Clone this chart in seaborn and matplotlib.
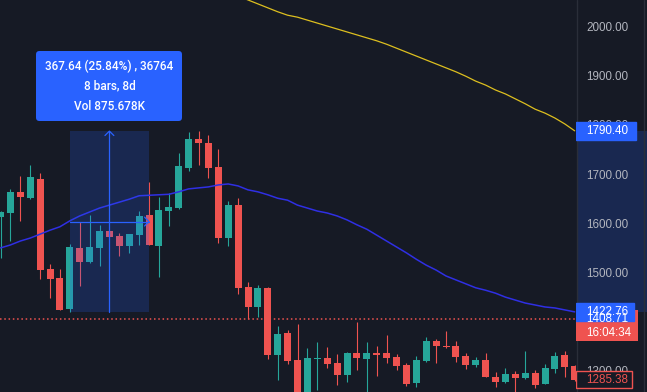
import numpy as np
import pandas as pd
import matplotlib
matplotlib.use("Agg")
import matplotlib.pyplot as plt
from matplotlib.patches import Rectangle, FancyBboxPatch
import seaborn as sns

# candle data (daily bars)
opens = [1616.4, 1624.6, 1666.7, 1655.1, 1693.1, 1510.2, 1491.9, 1428.0, 1552.8, 1525.0,
         1553.5, 1587.4, 1577.2, 1557.5, 1579.9, 1619.9, 1557.5, 1628.6, 1634.8, 1716.1,
         1774.4, 1766.2, 1717.5, 1573.8, 1640.2, 1473.6, 1433.5, 1472.1, 1335.9, 1380.1,
         1325.2, 1245.0, 1327.2, 1329.3, 1319.1, 1294.7, 1339.4, 1327.2, 1339.4, 1339.4,
         1331.3, 1315.0, 1278.4, 1323.2, 1363.8, 1353.6, 1353.6, 1333.3, 1315.0, 1325.2,
         1290.6, 1280.5, 1296.7, 1288.6, 1298.8, 1276.4, 1306.9, 1335.4, 1313.0]
closes = [1626.0, 1666.7, 1657.1, 1697.2, 1508.7, 1490.4, 1427.4, 1554.9, 1525.0, 1554.9,
          1587.4, 1575.8, 1557.5, 1581.3, 1617.9, 1559.6, 1630.1, 1636.2, 1719.5, 1774.4,
          1766.9, 1716.1, 1573.8, 1640.2, 1472.1, 1433.5, 1472.1, 1335.9, 1378.0, 1323.8,
          1245.0, 1329.3, 1329.3, 1317.1, 1294.7, 1339.4, 1329.3, 1339.4, 1335.4, 1329.3,
          1313.0, 1276.4, 1325.2, 1363.8, 1353.6, 1351.6, 1331.3, 1315.0, 1325.2, 1290.6,
          1280.5, 1296.7, 1288.6, 1298.8, 1274.4, 1308.9, 1333.3, 1311.0, 1285.38]
highs = [1628.0, 1672.8, 1699.2, 1721.5, 1705.3, 1520.3, 1510.2, 1561.0, 1606.3, 1619.9,
         1599.6, 1588.5, 1583.3, 1582.0, 1628.0, 1687.0, 1656.5, 1664.6, 1745.9, 1788.6,
         1790.4, 1782.5, 1754.1, 1648.4, 1654.5, 1483.7, 1477.6, 1473.5, 1394.3, 1386.2,
         1398.4, 1349.6, 1361.8, 1351.6, 1337.4, 1341.5, 1402.4, 1361.8, 1353.6, 1376.0,
         1337.4, 1319.1, 1333.3, 1372.0, 1367.9, 1384.1, 1363.8, 1339.4, 1331.3, 1339.4,
         1300.8, 1308.9, 1302.8, 1343.5, 1304.9, 1317.1, 1341.5, 1343.5, 1315.0]
lows = [1532.5, 1567.7, 1608.3, 1653.0, 1490.4, 1451.8, 1426.0, 1422.76, 1476.2, 1523.0,
        1516.9, 1575.0, 1537.2, 1543.3, 1559.6, 1558.0, 1494.5, 1598.2, 1632.7, 1710.0,
        1722.2, 1695.7, 1563.6, 1557.5, 1459.9, 1409.1, 1413.2, 1327.8, 1285.2, 1317.7,
        1230.0, 1235.0, 1264.8, 1309.1, 1274.4, 1280.5, 1304.9, 1250.0, 1292.7, 1319.1,
        1304.9, 1272.4, 1270.3, 1321.2, 1319.1, 1349.6, 1321.2, 1306.9, 1311.0, 1290.0,
        1270.3, 1278.4, 1250.0, 1286.6, 1268.3, 1275.5, 1298.8, 1290.6, 1282.5]

# moving averages
ma_fast = [1553, 1559, 1567, 1573, 1581, 1589, 1596, 1608, 1618, 1626,
           1634, 1640, 1646, 1652, 1659, 1660, 1661, 1662, 1667, 1673,
           1675, 1677, 1681, 1683, 1679, 1671, 1667, 1661, 1654, 1650,
           1640, 1634, 1628, 1624, 1618, 1610, 1600, 1591, 1579, 1567,
           1555, 1543, 1530, 1518, 1508, 1496, 1488, 1480, 1472, 1467,
           1461, 1453, 1447, 1441, 1437, 1433, 1431, 1427, 1423]
slow_start = 24
ma_slow = [2065, 2057, 2049, 2041, 2033, 2026, 2022, 2016, 2010, 2004,
           1998, 1992, 1986, 1980, 1974, 1967, 1959, 1951, 1943, 1935,
           1927, 1919, 1911, 1902, 1892, 1884, 1874, 1866, 1856, 1846,
           1835, 1827, 1817, 1805, 1791]

# price range measurement
meas_start, meas_end = 7, 15
meas_low, meas_high = 1422.76, 1790.40
meas_lines = ["367.64 (25.84%) , 36764", "8 bars, 8d", "Vol 875.678K"]

last_price = 1408.71
countdown = "16:04:34"
close_label = 1285.38
tick_prices = [1300, 1400, 1500, 1600, 1700, 1800, 1900, 2000]

BG = "#161A25"
UP = "#26A69A"
DOWN = "#EF5350"
BLUE = "#2962FF"
TXT = "#B2B5BE"

sns.set_theme(style="dark")
plt.rcParams['font.family'] = ['Liberation Sans', 'DejaVu Sans']

W, H = 647, 392
fig = plt.figure(figsize=(W / 100, H / 100), dpi=100, facecolor=BG)
plot_w = 576
ax = fig.add_axes([0, 0, plot_w / W, 1])
axr = fig.add_axes([plot_w / W, 0, (W - plot_w) / W, 1])

PX = 0.492  # pixels per price unit
ymin, ymax = 2000 - 364 / PX, 2000 + 28 / PX
step = 9.9  # pixels per bar
xmin, xmax = -0.5 / step, (plot_w - 0.5) / step


def py(px):
    return 2000 - (px - 28) / PX


for a in (ax, axr):
    a.set_facecolor(BG)
    a.set_ylim(ymin, ymax)
    a.set_xticks([])
    a.set_yticks([])
    for s in a.spines.values():
        s.set_visible(False)
    a.grid(False)
ax.set_xlim(xmin, xmax)
axr.set_xlim(0, W - plot_w)

df = pd.DataFrame({"o": opens, "h": highs, "l": lows, "c": closes})
df["i"] = np.arange(len(df))
cols = np.where(df["c"] >= df["o"], UP, DOWN)
body_lo = np.minimum(df["o"], df["c"])
body_h = np.maximum(np.abs(df["c"] - df["o"]), 2.0)
ax.vlines(df["i"], df["l"], df["h"], colors=cols, linewidth=0.8, zorder=2)
ax.bar(df["i"], body_h, bottom=body_lo, width=7 / step, color=cols, linewidth=0, zorder=3)

fast = pd.DataFrame({"i": np.arange(len(ma_fast)), "v": ma_fast})
slow = pd.DataFrame({"i": np.arange(slow_start, slow_start + len(ma_slow)), "v": ma_slow})
sns.lineplot(data=fast, x="i", y="v", ax=ax, color="#2F2FE4", linewidth=1.1, zorder=4)
sns.lineplot(data=slow, x="i", y="v", ax=ax, color="#DDBF1F", linewidth=0.9, zorder=4)
ax.set_xlabel("")
ax.set_ylabel("")
ax.set_xlim(xmin, xmax)
ax.set_ylim(ymin, ymax)

# last price dotted line
ax.axhline(last_price, color=DOWN, linewidth=1.1, linestyle=(0, (1, 1.8)), zorder=5)

# measurement box
ax.add_patch(Rectangle((meas_start, meas_low), meas_end - meas_start, meas_high - meas_low,
                       facecolor=BLUE, alpha=0.2, linewidth=0, zorder=6))
mid_x = (meas_start + meas_end) / 2
mid_y = (meas_low + meas_high) / 2
ax.plot([mid_x, mid_x], [meas_low, meas_high], color=BLUE, linewidth=0.9, zorder=7)
ax.plot([meas_start, meas_end], [mid_y, mid_y], color=BLUE, linewidth=0.9, zorder=7)
ax.plot([mid_x - 0.45, mid_x, mid_x + 0.45], [meas_high - 9, meas_high, meas_high - 9],
        color=BLUE, linewidth=0.9, zorder=7)
ax.plot([meas_end - 0.45, meas_end, meas_end - 0.45], [mid_y + 9, mid_y, mid_y - 9],
        color=BLUE, linewidth=0.9, zorder=7)

# measurement label
lx0, lx1 = (36 - 0.5) / step, (182 - 0.5) / step
ly0, ly1 = py(121), py(51)
ax.add_patch(FancyBboxPatch((lx0, ly0), lx1 - lx0, ly1 - ly0,
                            boxstyle="round,pad=0,rounding_size=0.35",
                            mutation_aspect=(1 / PX) / (1 / step),
                            facecolor=BLUE, linewidth=0, zorder=8))
for txt, ypx in zip(meas_lines, [66.5, 86, 106]):
    ax.text(mid_x, py(ypx), txt, color="white", fontsize=8.5, ha="center", va="center",
            family=["Roboto", "DejaVu Sans"], fontweight="medium", zorder=9)

# right price scale
axr.axvline(0.5, color="#2A2E39", linewidth=1)
axr.axvline(67.5, color="#2A2E39", linewidth=1)
axr.add_patch(Rectangle((1, meas_low), 70, meas_high - meas_low, facecolor=BLUE,
                        alpha=0.2, linewidth=0, zorder=1))
for p in tick_prices:
    axr.text(10, p, f"{p:.2f}", color=TXT, fontsize=8.4, ha="left", va="center", zorder=2)

lab_h = 17.5 / PX


def price_label(price, text, face, tcolor, width=60, edge=None):
    axr.add_patch(Rectangle((0, price - lab_h / 2), width, lab_h, facecolor=face,
                            edgecolor=edge if edge else face, linewidth=1, zorder=3))
    axr.text(10, price, text, color=tcolor, fontsize=8.4, ha="left", va="center", zorder=4)


# last price with countdown
axr.add_patch(Rectangle((0, py(341)), 62, py(310) - py(341), facecolor=DOWN,
                        linewidth=0, zorder=3))
axr.text(10, last_price, f"{last_price:.2f}", color="white", fontsize=8.4,
         ha="left", va="center", zorder=3.5)
axr.text(10, py(332.5), countdown, color="white", fontsize=8.4, ha="left",
         va="center", zorder=3.5)
price_label(meas_high, f"{meas_high:.2f}", BLUE, "white")
price_label(meas_low, f"{meas_low:.2f}", BLUE, "white", width=58)
price_label(close_label, f"{close_label:.2f}", BG, DOWN, width=56, edge=DOWN)

fig.savefig("out.png", dpi=100, facecolor=BG)
